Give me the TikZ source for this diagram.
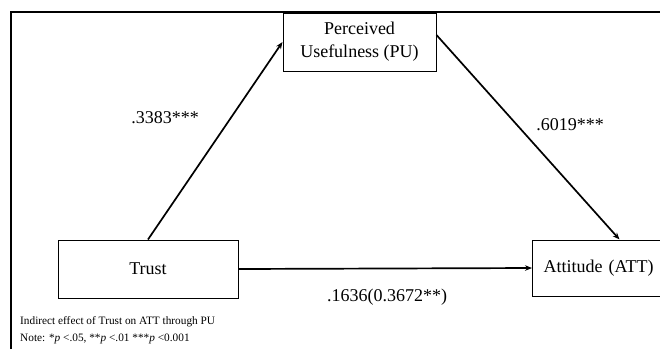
\documentclass[tikz,border=0pt]{standalone}
\usepackage{fontspec}
\setmainfont{Liberation Serif}
\usetikzlibrary{arrows.meta}
\begin{document}
\begin{tikzpicture}[x=1pt,y=-1pt,
  varbox/.style={draw=black,line width=1pt,fill=white,inner sep=0pt,align=center,
    font=\fontsize{18}{23}\selectfont},
  path/.style={line width=1.7pt,-{Stealth[length=7pt,width=5.5pt]}},
  coef/.style={inner sep=0pt,font=\fontsize{18}{22}\selectfont},
  note/.style={inner sep=0pt,anchor=base west,font=\fontsize{11.3}{13}\selectfont}]
\clip (0,0) rectangle (660,349);
\fill[white] (0,0) rectangle (660,349);
% frame lines (left and top)
\draw[line width=1.6pt] (11,349) -- (11,12) -- (662,12);
% variables
\node[varbox,minimum width=153pt,minimum height=58pt] (pu) at (359.5,42) {Perceived\\Usefulness (PU)};
\node[varbox,minimum width=180pt,minimum height=58pt] (trust) at (148,269) {Trust};
\node[varbox,anchor=west,align=left,text width=152pt,inner xsep=11pt,minimum height=56pt] (att) at (532,268) {Attitude (ATT)};
% paths
\draw[path] (trust.north) -- (pu.west);
\draw[path] ([yshift=7pt]pu.east) -- (att.north);
\draw[path] (trust.east) -- (att.west);
% coefficients
\node[coef] (a) at (165,118) {.3383***};
\node[coef] (b) at (570,125) {.6019***};
\node[coef] (c) at (387,297) {.1636(0.3672**)};
% notes
\node[note] (n1) at (20,324) {Indirect effect of Trust on ATT through PU};
\node[note] (n2) at (20,341) {Note: *\textit{p} <.05, **\textit{p} <.01 ***\textit{p} <0.001};
\end{tikzpicture}
\end{document}
